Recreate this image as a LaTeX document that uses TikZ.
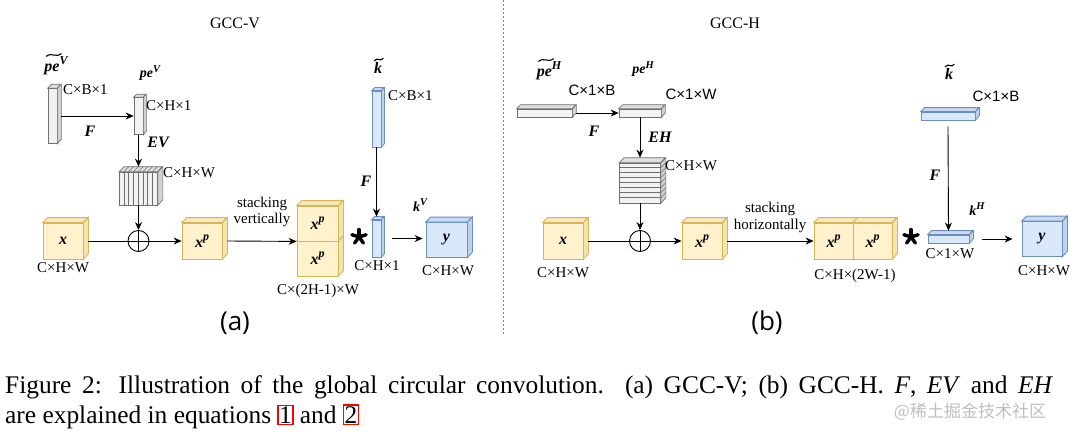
\documentclass[tikz,border=0pt]{standalone}
\usepackage{fontspec}
\setmainfont{Liberation Serif}
\newfontfamily\arialf{Liberation Sans}
\newfontfamily\opensans{Open Sans}
\newfontfamily\cjk{Noto Sans CJK SC}
\usetikzlibrary{calc,arrows.meta}
\definecolor{yelF}{HTML}{FFF2CC}\definecolor{yelD}{HTML}{D6B656}
\definecolor{bluF}{HTML}{DAE8FC}\definecolor{bluD}{HTML}{6C8EBF}
\definecolor{gryF}{HTML}{F2F2F2}\definecolor{gryD}{HTML}{707070}
\newcommand\bi{\fontsize{16}{18}\selectfont\bfseries\itshape}
\newcommand\supa[1]{\raisebox{0.42em}{\fontsize{12}{12}\selectfont #1}}
\newcommand\supb[1]{\raisebox{0.42em}{\fontsize{10.5}{11}\selectfont #1}}
\newcommand\refbox[1]{{\setlength\fboxsep{0.6pt}\setlength\fboxrule{1.1pt}\fcolorbox{red}{white}{#1}}}
\newcommand\threed[8]{%
  \node[#7, minimum width=#4pt, minimum height=#5pt, inner sep=0pt] (#1) at (#2,#3) {#8};
  \draw[#7 top] (#1.north west) -- ++(#6,-#6) -- ++(#4,0) -- (#1.north east) -- cycle;
  \draw[#7 side] (#1.north east) -- ++(#6,-#6) -- ++(0,#5) -- (#1.south east) -- cycle;
}
\newcommand\tld[2]{\draw[tlds] ($(#1)+(0,1.3)$) .. controls +(#2*0.4,-4.5) and +(-#2*0.4,4.5) .. ($(#1)+(#2,-1.3)$);}
\newcommand\astk[1]{\foreach \a in {270,342,54,126,198} {\draw[astl] (#1) -- ++(\a:7.5);}}
\tikzset{
  yel/.style={draw=yelD, fill=yelF, line width=0.8pt},
  yel top/.style={draw=yelD, fill=yelF!85!yelD, line width=0.8pt},
  yel side/.style={draw=yelD, fill=yelF!75!yelD, line width=0.8pt},
  blu/.style={draw=bluD, fill=bluF, line width=0.8pt},
  blu top/.style={draw=bluD, fill=bluF!85!bluD, line width=0.8pt},
  blu side/.style={draw=bluD, fill=bluF!75!bluD, line width=0.8pt},
  gry/.style={draw=gryD, fill=gryF, line width=0.7pt},
  gry top/.style={draw=gryD, fill=gryF!85!gryD, line width=0.7pt},
  gry side/.style={draw=gryD, fill=gryF!75!gryD, line width=0.7pt},
  stripe/.style={draw=gryD, line width=0.6pt},
  tlds/.style={line width=1.1pt, line cap=round},
  astl/.style={line width=3.4pt, line cap=round},
  lbl/.style={font=\fontsize{15}{16}\selectfont, inner sep=0pt},
  slbl/.style={font=\arialf\fontsize{15}{16}\selectfont, inner sep=0pt},
  mth/.style={font=\fontsize{16}{18}\selectfont\bfseries\itshape, inner sep=0pt},
  smth/.style={font=\fontsize{14}{15}\selectfont\bfseries\itshape, inner sep=0pt},
  ttl/.style={font=\fontsize{16}{18}\selectfont, inner sep=0pt},
  sub/.style={font=\opensans\fontsize{26}{28}\selectfont, inner sep=0pt},
  capt/.style={font=\fontsize{25.4}{30}\selectfont, inner sep=0pt},
  arr/.style={-{Stealth[length=8pt,width=7pt]}, line width=0.9pt},
  ln/.style={line width=0.9pt},
  opl/.style={draw, circle, minimum size=21pt, inner sep=0pt, line width=0.9pt},
}
\begin{document}
\begin{tikzpicture}[x=1pt,y=-1pt]
\fill[white] (0,0) rectangle (1080,437);
\useasboundingbox (0,0) rectangle (1080,437);
% divider
\coordinate (dv1) at (503,0);
\coordinate (dv2) at (503,335);
\draw[gray, line width=0.8pt, dash pattern=on 2pt off 2pt] (dv1) -- (dv2);

% ================= GCC-V =================
\node[ttl] (tV) at (235,23) {GCC-V};
\node[mth] (lpevt) at (56,66) {pe\supa{V}};
\coordinate (tl1) at ($(lpevt.west)+(2,-11)$);
\tld{tl1}{15}
\threed{pevt}{52.5}{116}{9}{55}{4}{gry}{}
\node[lbl, anchor=west] (dpevt) at (63,90) {C×B×1};
\threed{pev}{138.5}{116}{9}{37}{3}{gry}{}
\node[smth] (lpev) at (150,73) {pe\supb{V}};
\node[lbl, anchor=west] (dpev) at (146,106) {C×H×1};
\draw[arr] ([xshift=4pt]pevt.east) -- (pev.west);
\node[mth] (lF1) at (90,131) {F};
\threed{evb}{138.5}{188.5}{38}{33}{5}{gry}{}
\foreach \i in {1,...,7} {
  \draw[stripe] ($(evb.north west)+(\i*4.75,0)$) -- ++(0,33);
  \draw[stripe] ($(evb.north west)+(\i*4.75,0)$) -- ++(5,-5);
}
\draw[arr] (pev.south) -- ([yshift=5pt]evb.north);
\node[mth] (lEV) at (158,142) {EV};
\node[lbl, anchor=west] (devb) at (163,173) {C×H×W};
\node[opl] (op1) at (138.5,241) {};
\draw[ln] (op1.north) -- (op1.south) (op1.west) -- (op1.east);
\draw[arr] (evb.south) -- (op1.north);
\threed{xv}{63}{241}{40}{36}{5}{yel}{\bi x}
\node[lbl] (dxv) at (63,268) {C×H×W};
\threed{xpv}{202}{241}{40}{36}{5}{yel}{\bi x\supa{p}}
\draw[ln] ([xshift=5pt]xv.east) -- (op1.west);
\draw[arr] (op1.east) -- (xpv.west);
\threed{sv2}{317.5}{258.5}{41}{35}{5}{yel}{\bi x\supa{p}}
\threed{sv1}{317.5}{223.5}{41}{35}{5}{yel}{\bi x\supa{p}}
\node[lbl, align=center, font=\fontsize{15}{16}\selectfont] (stv) at (262,212) {stacking\\vertically};
\draw[arr] ([xshift=5pt]xpv.east) -- (sv1.south west);
\node[lbl] (dsv) at (318,291) {C×(2H-1)×W};
\coordinate (as1) at (359,237);
\astk{as1}
\node[mth] (lkt1) at (378,68) {k};
\coordinate (tl2) at ($(lkt1.west)+(0.5,-8.5)$);
\tld{tl2}{9}
\threed{kt1}{376.5}{119}{9}{56}{3}{blu}{}
\node[lbl, anchor=west] (dkt1) at (388,96) {C×B×1};
\threed{kv}{376.5}{238.5}{9}{37}{3}{blu}{}
\draw[arr] (kt1.south) -- ([yshift=3pt]kv.north);
\node[mth] (lF2) at (366,181) {F};
\node[smth] (lkv) at (420,205) {k\supb{V}};
\node[lbl] (dkv) at (377,266) {C×H×1};
\threed{yv}{446.5}{240}{41}{35}{5}{blu}{\bi y}
\draw[arr] ([xshift=11pt]kv.east) -- ([xshift=-3pt]yv.west |- kv.east);
\node[lbl] (dyv) at (448,271) {C×H×W};
\node[sub] (sa) at (235,323) {(a)};

% ================= GCC-H =================
\node[ttl] (tH) at (735,23) {GCC-H};
\node[mth] (lpeht) at (549,71) {pe\supa{H}};
\coordinate (tl3) at ($(lpeht.west)+(2,-11)$);
\tld{tl3}{15}
\threed{peht}{544.5}{113}{55}{8}{4}{gry}{}
\node[slbl] (dpeht) at (592,90) {C×1×B};
\threed{peh}{640}{113}{42}{8}{4}{gry}{}
\node[smth] (lpeh) at (643,69) {pe\supb{H}};
\node[slbl] (dpeh) at (691,94) {C×1×W};
\draw[arr] ([xshift=4pt]peht.east) -- (peh.west);
\node[mth] (lF3) at (594,131) {F};
\threed{ehb}{640}{183}{41}{40}{5}{gry}{}
\foreach \i in {1,...,7} {
  \draw[stripe] ($(ehb.north west)+(0,\i*5)$) -- ++(41,0);
  \draw[stripe] ($(ehb.north east)+(0,\i*5)$) -- ++(5,-5);
}
\draw[arr] (peh.south) -- ([yshift=5pt]ehb.north);
\node[mth] (lEH) at (660,137) {EH};
\node[lbl, anchor=west] (dehb) at (665,166) {C×H×W};
\node[opl] (op2) at (640,241) {};
\draw[ln] (op2.north) -- (op2.south) (op2.west) -- (op2.east);
\draw[arr] (ehb.south) -- (op2.north);
\threed{xh}{563}{241}{40}{36}{5}{yel}{\bi x}
\node[lbl] (dxh) at (563,273) {C×H×W};
\threed{xph}{702}{241}{40}{36}{5}{yel}{\bi x\supa{p}}
\draw[ln] ([xshift=5pt]xh.east) -- (op2.west);
\draw[arr] (op2.east) -- (xph.west);
\threed{sh1}{833.5}{241}{39}{36}{5}{yel}{\bi x\supa{p}}
\threed{sh2}{872.5}{241}{39}{36}{5}{yel}{\bi x\supa{p}}
\node[lbl, align=center, font=\fontsize{15}{17}\selectfont] (sth) at (770,217) {stacking\\horizontally};
\draw[arr] ([xshift=5pt]xph.east) -- (sh1.west);
\node[lbl] (dsh) at (855,276) {C×H×(2W-1)};
\coordinate (as2) at (911,237);
\astk{as2}
\node[mth] (lkt2) at (949,74) {k};
\coordinate (tl4) at ($(lkt2.west)+(0.5,-8.5)$);
\tld{tl4}{9}
\threed{kt2}{948}{116}{54}{8}{4}{blu}{}
\node[slbl] (dkt2) at (996,96) {C×1×B};
\threed{kh}{948.5}{239}{41}{8}{4}{blu}{}
\draw[arr] ([yshift=-6pt]kt2.south) -- ([yshift=4pt]kh.north);
\node[mth] (lF4) at (935,175) {F};
\node[smth] (lkh) at (977,209) {k\supb{H}};
\node[lbl] (dkh) at (950,254) {C×1×W};
\threed{yh}{1042}{239}{40}{35}{5}{blu}{\bi y}
\draw[arr] ([xshift=13pt]kh.east) -- ([xshift=-9pt]yh.west |- kh.east);
\node[lbl] (dyh) at (1044,271) {C×H×W};
\node[sub] (sb) at (767,323) {(b)};

% ================= caption =================
\node[capt, anchor=base west] (cap1) at (5,393) {\makebox[1048pt][s]{Figure 2: Illustration of the global circular convolution. (a) GCC-V; (b) GCC-H. \textit{F}, \textit{EV} and \textit{EH}}};
\node[capt, anchor=base west] (cap2) at (5,423) {are explained in equations \refbox{1} and \refbox{2}};
\node[font=\cjk\fontsize{17}{17}\selectfont, text=gray!50, inner sep=0pt] (wm) at (970,412) {@稀土掘金技术社区};
\end{tikzpicture}
\end{document}
